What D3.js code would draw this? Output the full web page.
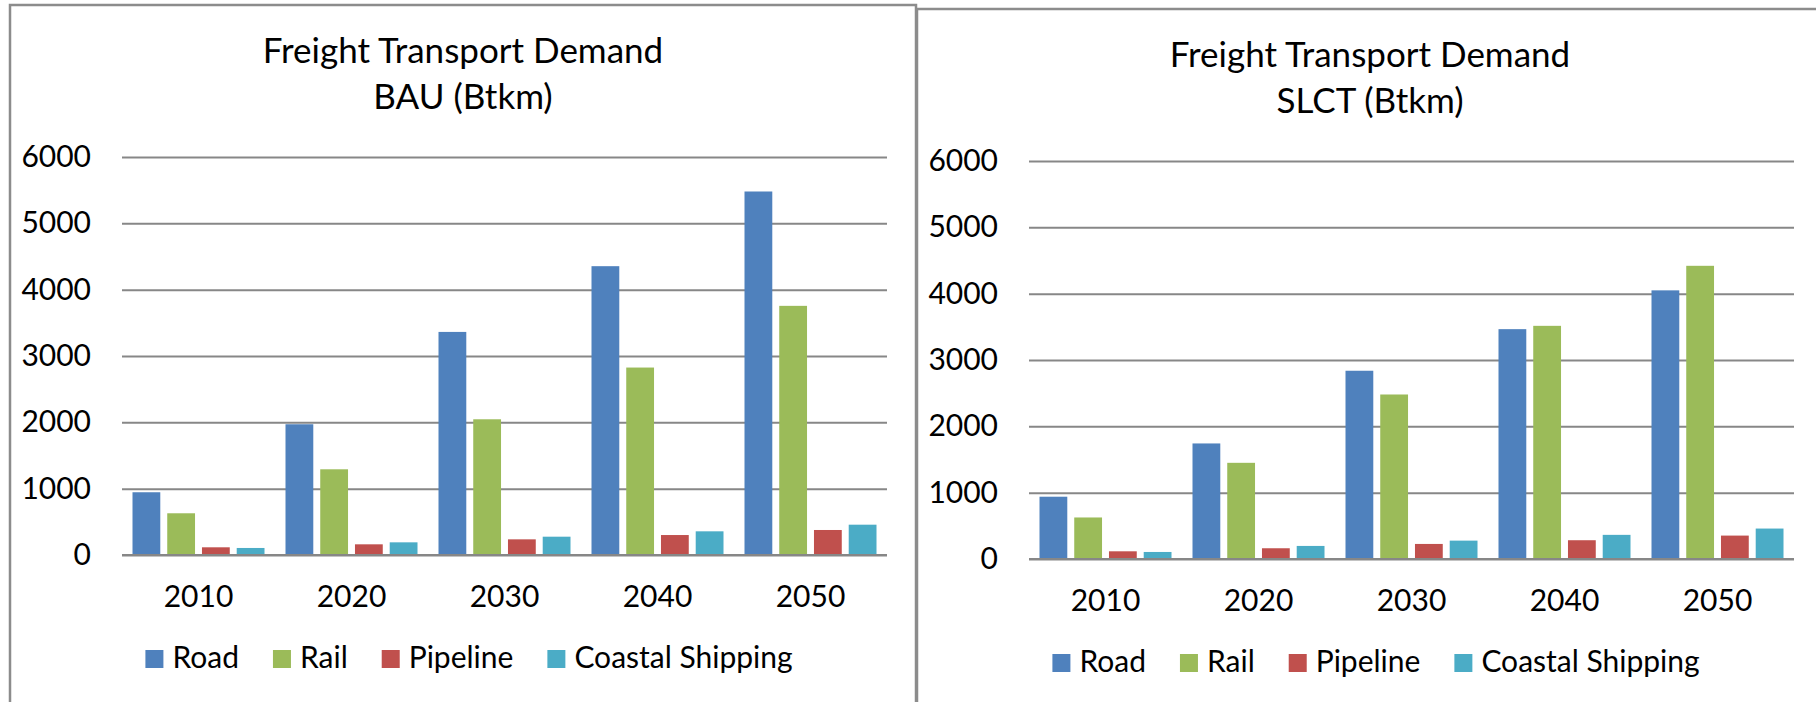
<!DOCTYPE html>
<html>
<head>
<meta charset="utf-8">
<script src="https://cdn.jsdelivr.net/npm/d3@7"></script>
<style>
    body { margin: 0; background: #ffffff; }
    svg { display: block; }
    text { font-family: Lato, 'Open Sans', sans-serif; fill: #000000; }
    .grid line { stroke: #878787; stroke-width: 2; }
    .grid .domain { display: none; }
    .xaxis .domain, .xaxis line { display: none; }
</style>
</head>
<body>
<svg width="1816" height="702"></svg>
<script>
const years = ['2010', '2020', '2030', '2040', '2050'];
const modes = ['Road', 'Rail', 'Pipeline', 'Coastal Shipping'];
const colors = ['#4f81bd', '#9bbb59', '#c0504d', '#4bacc6'];
const yTicks = [0, 1000, 2000, 3000, 4000, 5000, 6000];

// BAU scenario, one array per mode (Btkm)
const bauRoad = [946, 1971, 3363, 4354, 5480];
const bauRail = [629, 1292, 2046, 2826, 3756];
const bauPipeline = [116, 161, 236, 301, 377];
const bauCoastal = [106, 191, 276, 357, 457];

// SLCT scenario
const slctRoad = [939, 1742, 2838, 3465, 4050];
const slctRail = [626, 1450, 2480, 3515, 4420];
const slctPipeline = [116, 162, 227, 283, 353];
const slctCoastal = [106, 197, 277, 364, 459];

const svg = d3.select('svg');
const labelSize = 30;

function drawChart(x0, y0, scenario, series) {
    const panel = svg.append('g')
        .attr('transform', `translate(${x0}, ${y0})`);

    // chart border
    panel.append('rect')
        .attr('x', 0)
        .attr('y', 0)
        .attr('width', 906)
        .attr('height', 700)
        .attr('fill', '#ffffff')
        .attr('stroke', '#8c8c8c')
        .attr('stroke-width', 2.5);

    const margin = { left: 112, top: 152 };
    const width = 765;
    const height = 398;

    const chart = panel.append('g')
        .attr('transform', `translate(${margin.left}, ${margin.top})`);

    const xScale = d3.scaleBand()
        .domain(years)
        .range([0, width]);

    const xInner = d3.scaleBand()
        .domain(modes)
        .range([10.5, xScale.bandwidth() - 10.5])
        .paddingInner(0.2);

    const yScale = d3.scaleLinear()
        .domain([0, 6000])
        .range([height, 0]);

    chart.append('g')
        .attr('class', 'grid')
        .call(d3.axisLeft(yScale)
            .tickValues(yTicks)
            .tickSize(-width)
            .tickPadding(31)
            .tickFormat(d3.format('d')))
        .call(g => g.selectAll('text').attr('font-size', labelSize).attr('font-family', null));

    const groups = chart.selectAll('.year')
        .data(years)
        .enter()
        .append('g')
        .attr('class', 'year')
        .attr('transform', (d) => `translate(${xScale(d)}, 0)`);

    groups.selectAll('rect')
        .data((d, i) => modes.map((m, j) => ({ mode: m, value: series[j][i], color: colors[j] })))
        .enter()
        .append('rect')
        .attr('x', (d) => xInner(d.mode))
        .attr('y', (d) => yScale(d.value))
        .attr('width', xInner.bandwidth())
        .attr('height', (d) => height - yScale(d.value))
        .attr('fill', (d) => d.color);

    // zero line drawn again above the bars
    chart.append('line')
        .attr('x1', 0)
        .attr('x2', width)
        .attr('y1', yScale(0))
        .attr('y2', yScale(0))
        .attr('stroke', '#878787')
        .attr('stroke-width', 2);

    chart.append('g')
        .attr('class', 'xaxis')
        .attr('transform', `translate(0, ${height})`)
        .call(d3.axisBottom(xScale).tickSize(0).tickPadding(31))
        .call(g => g.selectAll('text').attr('font-size', labelSize).attr('font-family', null));

    // title
    const title = panel.append('text')
        .attr('text-anchor', 'middle')
        .attr('font-size', 35);
    title.append('tspan')
        .attr('x', 453)
        .attr('y', 58)
        .text('Freight Transport Demand');
    title.append('tspan')
        .attr('x', 453)
        .attr('y', 104)
        .text(`${scenario} (Btkm)`);

    // legend, centred under the plot
    const legend = panel.append('g');
    let cursor = 0;
    modes.forEach((m, j) => {
        const item = legend.append('g').attr('transform', `translate(${cursor}, 0)`);
        item.append('rect')
            .attr('x', 0)
            .attr('y', -18)
            .attr('width', 18)
            .attr('height', 18)
            .attr('fill', colors[j]);
        const label = item.append('text')
            .attr('x', 27)
            .attr('y', 0)
            .attr('font-size', labelSize)
            .text(m);
        cursor += 27 + label.node().getComputedTextLength() + 34;
    });
    const legendWidth = cursor - 34;
    legend.attr('transform', `translate(${459 - legendWidth / 2}, 663)`);
}

drawChart(10, 5, 'BAU', [bauRoad, bauRail, bauPipeline, bauCoastal]);
drawChart(917, 9, 'SLCT', [slctRoad, slctRail, slctPipeline, slctCoastal]);
</script>
</body>
</html>
